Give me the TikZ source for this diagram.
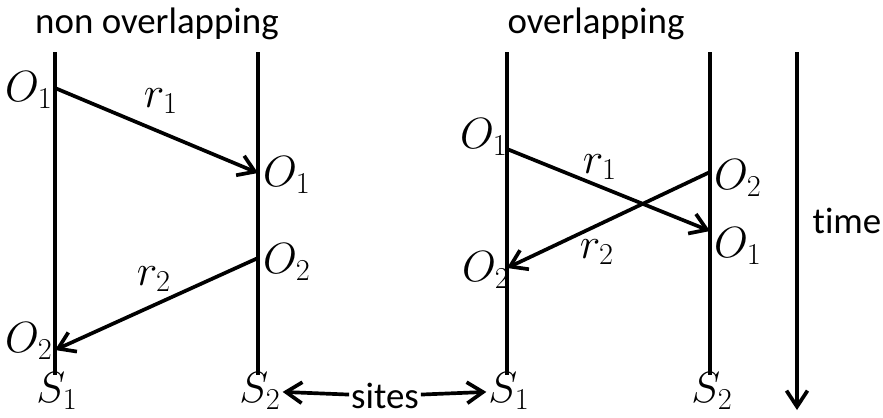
\documentclass[tikz,border=0pt]{standalone}
\usepackage{fontspec}
\setmainfont{Carlito}[Ligatures=NoCommon]
\usepackage{tikz}
\usetikzlibrary{arrows.meta,positioning,calc}
\tikzset{
  sitev/.style={line width=2.1pt,black},
  msg/.style={line width=2.1pt,black,-{Straight Barb[length=3.2mm,width=4.2mm]}},
  lab/.style={font=\fontsize{21}{25}\selectfont,inner sep=1pt},
  mlab/.style={font=\fontsize{23}{27}\selectfont,inner sep=1pt},
  every picture/.style={baseline={(current bounding box.center)}}
}

\begin{document}
\begin{tikzpicture}[x=0.02cm,y=-0.02cm]
  \useasboundingbox (0,0) rectangle (883,417);

  % non overlapping
  \node[lab] (tnon) at (157,24) {non overlapping};
  \coordinate (a1t) at (55,52);   \coordinate (a1b) at (55,375);
  \coordinate (a2t) at (258,52);  \coordinate (a2b) at (258,375);
  \draw[sitev] (a1t) -- (a1b);
  \draw[sitev] (a2t) -- (a2b);
  \coordinate (ao1s) at (55,88);   \coordinate (ao1r) at (258,173);
  \coordinate (ao2s) at (258,258); \coordinate (ao2r) at (55,350);
  \draw[msg] (ao1s) -- (ao1r);
  \draw[msg] (ao2s) -- (ao2r);
  \node[mlab] (ao1) at (29,90) {$O_1$};
  \node[mlab] at (161,101) {$r_1$};
  \node[mlab] at (287,175) {$O_1$};
  \node[mlab] at (287,262) {$O_2$};
  \node[mlab] at (154,279) {$r_2$};
  \node[mlab] (ao2) at (29,341) {$O_2$};
  \node[mlab] (as1) at (57,391) {$S_1$};
  \node[mlab] (as2) at (260,391) {$S_2$};

  % overlapping
  \node[lab] (tover) at (596,24) {overlapping};
  \coordinate (b1t) at (507,52);  \coordinate (b1b) at (507,375);
  \coordinate (b2t) at (710,52);  \coordinate (b2b) at (710,375);
  \draw[sitev] (b1t) -- (b1b);
  \draw[sitev] (b2t) -- (b2b);
  \coordinate (bo1s) at (507,149); \coordinate (bo1r) at (710,231);
  \coordinate (bo2s) at (710,172); \coordinate (bo2r) at (507,268);
  \draw[msg] (bo1s) -- (bo1r);
  \draw[msg] (bo2s) -- (bo2r);
  \node[mlab] at (484,137) {$O_1$};
  \node[mlab] at (600,167) {$r_1$};
  \node[mlab] at (738,178) {$O_2$};
  \node[mlab] at (738,246) {$O_1$};
  \node[mlab] at (597,252) {$r_2$};
  \node[mlab] at (486,270) {$O_2$};
  \node[mlab] (bs1) at (509,391) {$S_1$};
  \node[mlab] (bs2) at (712,391) {$S_2$};

  % sites
  \node[lab] (sites) at (385,396) {sites};
  \draw[msg] (sites) -- (as2);
  \draw[msg] (sites) -- (bs1);

  % time
  \coordinate (tt) at (797,52);
  \coordinate (tb) at (797,410);
  \draw[msg] (tt) -- (tb);
  \node[lab] (time) at (847,221) {time};
\end{tikzpicture}
\end{document}
